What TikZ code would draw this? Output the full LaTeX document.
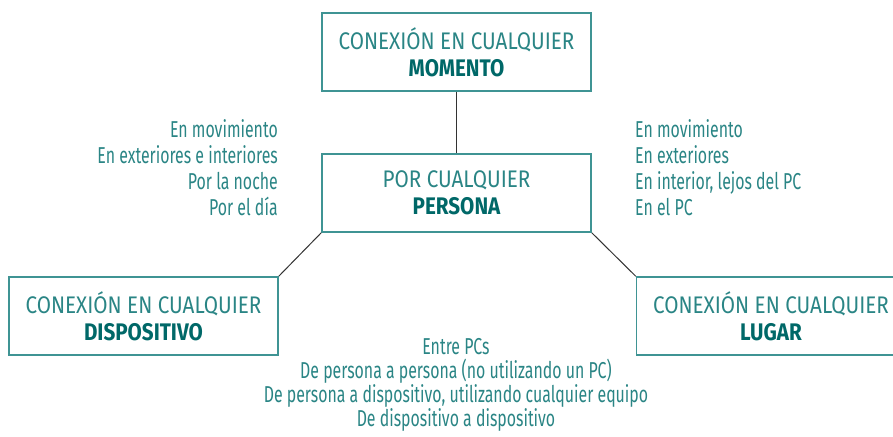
\documentclass[tikz,border=0pt]{standalone}
\usepackage{fontspec}
\setmainfont{Fira Sans}[FakeStretch=0.82]
\newfontfamily\cajafont{Fira Sans}[FakeStretch=0.86]
\newfontfamily\notafont{Fira Sans}[FakeStretch=0.69]
\usepackage{xcolor}

\begin{document}
\begin{tikzpicture}[x=1pt,y=-1pt,
  cajanode/.style={draw=borde,line width=1.5pt,minimum width=269pt,minimum height=78pt,
    align=center,text=texto,font=\cajafont\fontsize{24}{27}\selectfont},
  notanode/.style={text=texto,font=\notafont\fontsize{23}{26}\selectfont,inner sep=0pt},
  linea/.style={draw=gris,line width=1pt}]
\definecolor{borde}{HTML}{3F9494}
\definecolor{texto}{HTML}{2A8585}
\definecolor{fuerte}{HTML}{006868}
\definecolor{gris}{HTML}{333333}
\useasboundingbox (0,0) rectangle (893,436);
\node [cajanode] (momento) at (456.5,52) {CONEXIÓN EN CUALQUIER\\\textbf{\color{fuerte}MOMENTO}};
\node [cajanode] (persona) at (456.5,193) {POR CUALQUIER\\\textbf{\color{fuerte}PERSONA}};
\node [cajanode] (dispositivo) at (143.5,316) {CONEXIÓN EN CUALQUIER\\\textbf{\color{fuerte}DISPOSITIVO}};
\node [cajanode] (lugar) at (771,316) {CONEXIÓN EN CUALQUIER\\\textbf{\color{fuerte}LUGAR}};
  \draw [linea] (momento.south) -- (persona.north);
  \draw [linea] (persona.south west) -- (dispositivo.north east);
  \draw [linea] (persona.south east) -- (lugar.north west);
\node [notanode,align=right,anchor=east] (izq) at (278,168) {En movimiento\\En exteriores e interiores\\Por la noche\\Por el día};
\node [notanode,align=left,anchor=west] (der) at (635,168) {En movimiento\\En exteriores\\En interior, lejos del PC\\En el PC};
\node [notanode,align=center,font=\notafont\fontsize{23}{24}\selectfont] (abajo) at (456,385) {Entre PCs\\De persona a persona (no utilizando un PC)\\De persona a dispositivo, utilizando cualquier equipo\\De dispositivo a dispositivo};
\end{tikzpicture}
\end{document}
